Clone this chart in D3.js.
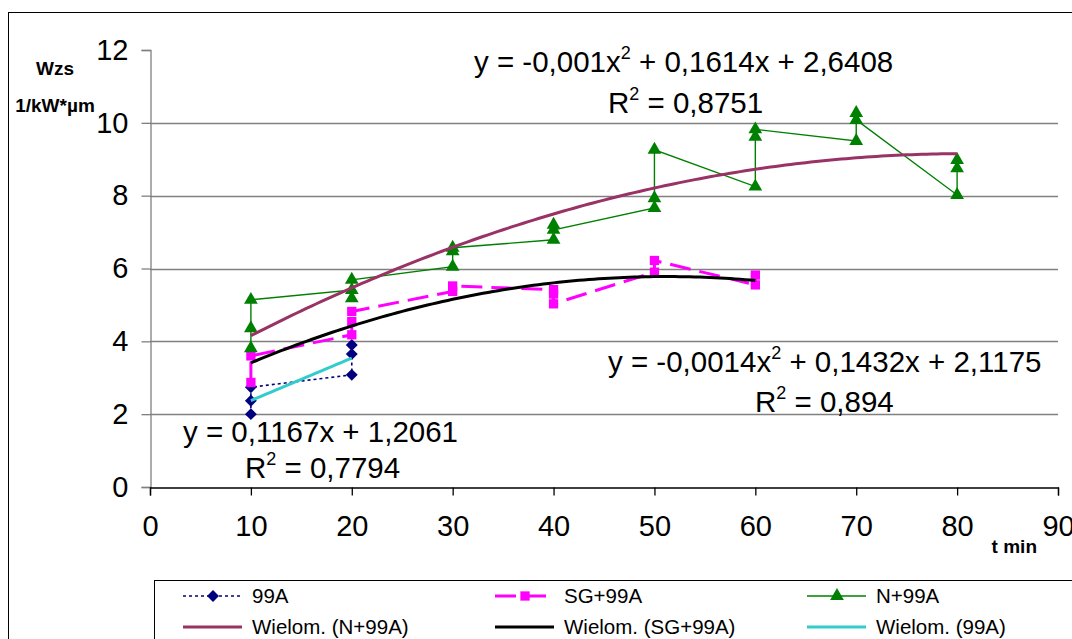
<!DOCTYPE html>
<html lang="en">
<head>
    <meta charset="UTF-8">
    <title>Wzs vs t</title>
    <script src="https://cdn.jsdelivr.net/npm/d3@7"></script>
    <style>
        body { margin: 0; background: #fff; }
        svg { display: block; font-family: "Liberation Sans", Arial, sans-serif; }
    </style>
</head>
<body>
<svg id="canvas" width="1072" height="639"></svg>
<script>
    // ticks
    const xTicks = [0, 10, 20, 30, 40, 50, 60, 70, 80, 90];
    const yTicks = [0, 2, 4, 6, 8, 10, 12];

    // 99A
    const times99A = [10, 10, 10, 20, 20, 20];
    const vals99A = [2.0, 2.37, 2.74, 3.08, 3.65, 3.9];
    // SG+99A
    const timesSG = [10, 10, 20, 20, 20, 30, 30, 40, 40, 40, 50, 50, 60, 60];
    const valsSG = [2.87, 3.6, 4.18, 4.54, 4.82, 5.37, 5.52, 5.42, 5.3, 5.03, 5.9, 6.22, 5.55, 5.82];
    // N+99A
    const timesN = [10, 10, 10, 20, 20, 20, 30, 30, 30, 40, 40, 40, 50, 50, 50, 60, 60, 60, 70, 70, 70, 80, 80, 80];
    const valsN = [3.81, 4.36, 5.14, 5.41, 5.18, 5.69, 6.05, 6.47, 6.57, 6.79, 7.2, 7.06,
                   7.66, 7.93, 9.26, 8.25, 9.62, 9.82, 9.5, 10.27, 10.08, 8.02, 8.75, 8.98];

    // trendline coefficients (a x^2 + b x + c) as printed on the chart, and their x range
    const coefN = [-0.001, 0.1614, 2.6408];
    const coefSG = [-0.0014, 0.1432, 2.1175];
    const coef99A = [0, 0.1167, 1.2061];
    const spanN = [10, 80], spanSG = [10, 60], span99A = [10, 20];

    const svg = d3.select('#canvas');
    const x = d3.scaleLinear().domain([0, 90]).range([150, 1058]);
    const y = d3.scaleLinear().domain([0, 12]).range([487, 50]);

    // outer chart frame (right/bottom are cut off)
    svg.append('line').attr('x1', 8).attr('x2', 1072).attr('y1', 12.5).attr('y2', 12.5).attr('stroke', '#000');
    svg.append('line').attr('x1', 8.5).attr('x2', 8.5).attr('y1', 12).attr('y2', 639).attr('stroke', '#000');

    // gridlines
    svg.append('g').selectAll('line')
        .data(yTicks.filter(d => d > 0 && d < 12))
        .enter().append('line')
        .attr('x1', x(0)).attr('x2', x(90))
        .attr('y1', d => Math.round(y(d)) + 0.5).attr('y2', d => Math.round(y(d)) + 0.5)
        .attr('stroke', '#808080').attr('stroke-width', 1.3);

    // axes
    const yAxis = svg.append('g').attr('transform', `translate(${x(0) + 0.5},0)`)
        .call(d3.axisLeft(y).tickValues(yTicks).tickSize(9).tickPadding(13).tickFormat(d3.format('d')));
    yAxis.select('.domain').attr('stroke', '#808080').attr('stroke-width', 1.3);
    yAxis.selectAll('.tick line').attr('stroke', '#808080').attr('stroke-width', 1.3);
    yAxis.selectAll('text').attr('font-size', 29).attr('fill', '#000')
        .attr('font-family', '"Liberation Sans", Arial, sans-serif');

    const xAxis = svg.append('g').attr('transform', `translate(0,${Math.round(y(0)) + 0.5})`)
        .call(d3.axisBottom(x).tickValues(xTicks).tickSize(8).tickPadding(20).tickFormat(d3.format('d')));
    xAxis.select('.domain').attr('stroke', '#000').attr('stroke-width', 1.3);
    xAxis.selectAll('.tick line').attr('stroke', '#000').attr('stroke-width', 1.3);
    xAxis.selectAll('text').attr('font-size', 29).attr('fill', '#000')
        .attr('font-family', '"Liberation Sans", Arial, sans-serif');

    // axis titles
    svg.append('text').attr('x', 55).attr('y', 75).attr('text-anchor', 'middle')
        .attr('font-size', 19).attr('font-weight', 'bold').text('Wzs');
    svg.append('text').attr('x', 55).attr('y', 112).attr('text-anchor', 'middle')
        .attr('font-size', 19).attr('font-weight', 'bold').text('1/kW*µm');
    svg.append('text').attr('x', 1037).attr('y', 553).attr('text-anchor', 'end')
        .attr('font-size', 19).attr('font-weight', 'bold').text('t min');

    const line = d3.line().x(d => x(d[0])).y(d => y(d[1]));
    const zip = (ts, vs) => ts.map((t, i) => [t, vs[i]]);

    const series = [
        {name: '99A', pts: zip(times99A, vals99A), color: '#000080', width: 1.6, dash: '3,3', marker: d3.symbolDiamond2, size: 90},
        {name: 'SG+99A', pts: zip(timesSG, valsSG), color: '#FF00FF', width: 3, dash: '21,9', marker: d3.symbolSquare2, size: 110},
        {name: 'N+99A', pts: zip(timesN, valsN), color: '#008000', width: 1.4, dash: null, marker: d3.symbolTriangle2, size: 135}
    ];

    const plot = svg.append('g');
    series.forEach(s => {
        plot.append('path').datum(s.pts)
            .attr('d', line).attr('fill', 'none')
            .attr('stroke', s.color).attr('stroke-width', s.width)
            .attr('stroke-dasharray', s.dash);
        plot.append('g').selectAll('path').data(s.pts).enter().append('path')
            .attr('transform', d => `translate(${x(d[0])},${y(d[1])})`)
            .attr('d', d3.symbol().type(s.marker).size(s.size))
            .attr('fill', s.color).attr('stroke', 'none');
    });

    // trendlines
    const trends = [
        {name: 'Wielom. (N+99A)', coef: coefN, span: spanN, color: '#993366'},
        {name: 'Wielom. (SG+99A)', coef: coefSG, span: spanSG, color: '#000000'},
        {name: 'Wielom. (99A)', coef: coef99A, span: span99A, color: '#33CCCC'}
    ];
    trends.forEach(t => {
        const xs = d3.range(t.span[0], t.span[1] + 0.001, 0.5);
        const pts = xs.map(v => [v, t.coef[0] * v * v + t.coef[1] * v + t.coef[2]]);
        plot.append('path').datum(pts)
            .attr('d', line).attr('fill', 'none')
            .attr('stroke', t.color).attr('stroke-width', 3);
    });

    // equation labels
    const labels = [
        {x: 474, y: 72, parts: ['y = -0,001x', '2', ' + 0,1614x + 2,6408']},
        {x: 608, y: 113, parts: ['R', '2', ' = 0,8751']},
        {x: 608, y: 372, parts: ['y = -0,0014x', '2', ' + 0,1432x + 2,1175']},
        {x: 755, y: 412, parts: ['R', '2', ' = 0,894']},
        {x: 183, y: 442, parts: ['y = 0,1167x + 1,2061']},
        {x: 245, y: 478, parts: ['R', '2', ' = 0,7794']}
    ];
    labels.forEach(l => {
        const t = svg.append('text').attr('x', l.x).attr('y', l.y).attr('font-size', 29.5);
        l.parts.forEach((p, i) => {
            const ts = t.append('tspan').text(p);
            if (i === 1) ts.attr('font-size', 18).attr('dy', -13);
            if (i === 2) ts.attr('dy', 13);
        });
    });

    // legend
    const legend = svg.append('g');
    legend.append('rect').attr('x', 154.5).attr('y', 580.5).attr('width', 1000).attr('height', 100)
        .attr('fill', '#fff').attr('stroke', '#000');
    const colX = [183, 495, 807];
    series.forEach((s, i) => {
        const g = legend.append('g').attr('transform', `translate(${colX[i]},596)`);
        g.append('line').attr('x1', 0).attr('x2', 59).attr('stroke', s.color)
            .attr('stroke-width', s.width).attr('stroke-dasharray', s.dash);
        g.append('path').attr('transform', 'translate(30,0)')
            .attr('d', d3.symbol().type(s.marker).size(s.size)).attr('fill', s.color);
        g.append('text').attr('x', 69).attr('y', 7).attr('font-size', 20.5).text(s.name);
    });
    trends.forEach((t, i) => {
        const g = legend.append('g').attr('transform', `translate(${colX[i]},627)`);
        g.append('line').attr('x1', 0).attr('x2', 59).attr('stroke', t.color).attr('stroke-width', 3);
        g.append('text').attr('x', 69).attr('y', 7).attr('font-size', 20.5).text(t.name);
    });
</script>
</body>
</html>
